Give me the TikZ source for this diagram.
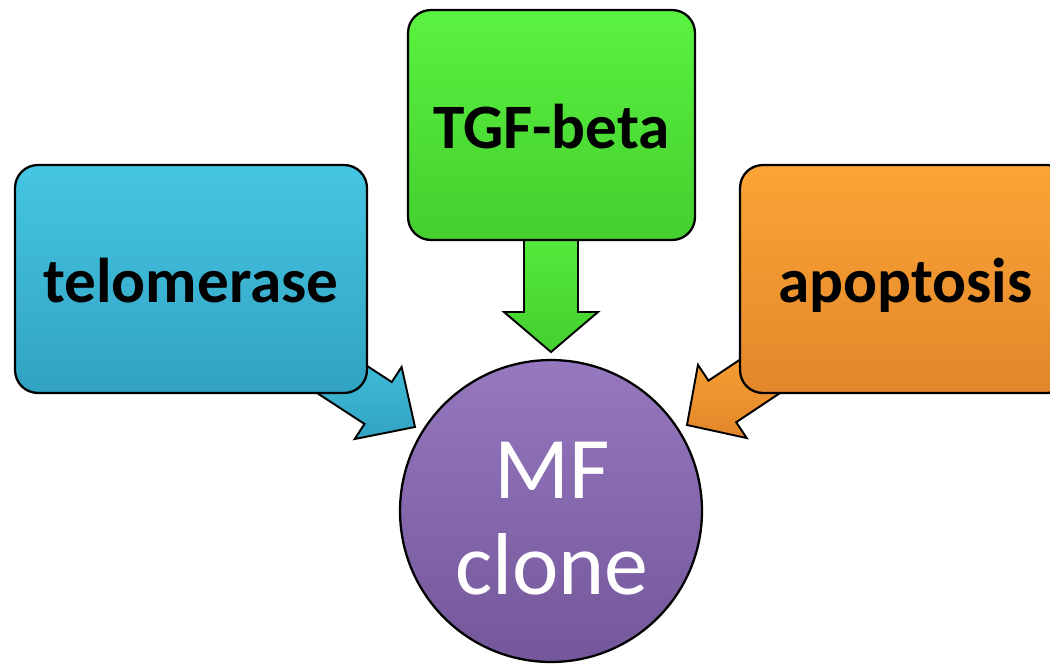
\documentclass[tikz,border=0pt]{standalone}
\usepackage{fontspec}
\setmainfont{Carlito}
\usetikzlibrary{calc}
\definecolor{cyanT}{HTML}{45C6E2}
\definecolor{cyanB}{HTML}{31A2C2}
\definecolor{greenT}{HTML}{5AF240}
\definecolor{greenB}{HTML}{44CF2E}
\definecolor{orangeT}{HTML}{FCA436}
\definecolor{orangeB}{HTML}{E2872A}
\definecolor{purpT}{HTML}{9678C0}
\definecolor{purpB}{HTML}{74569A}
\newcommand\blkarrow[6]{%
  \coordinate (#3-b) at ($(#3)!#6!(#2)$);
  \draw[#1] ($(#2)!#4!90:(#3)$) -- ($(#3-b)!#4!90:(#3)$) -- ($(#3-b)!#5!90:(#3)$)
    -- (#3) -- ($(#3-b)!#5!-90:(#3)$) -- ($(#3-b)!#4!-90:(#3)$) -- ($(#2)!#4!-90:(#3)$) -- cycle;}
\begin{document}
\begin{tikzpicture}[x=0.02cm,y=-0.02cm,
  box/.style={draw=black, line width=1.3pt, rounded corners=13pt, inner sep=0pt,
    font=\bfseries\fontsize{36}{40}\selectfont, text depth=0pt, text height=0.92cm},
  arr/.style={draw=black, line width=1.1pt, line join=miter},
  circ/.style={circle, draw=black, line width=1.3pt, inner sep=0pt, minimum size=6.04cm,
    top color=purpT, bottom color=purpB},
  mftext/.style={text=white, align=center, font=\fontsize{50}{55}\selectfont}]
\useasboundingbox (0,0) rectangle (1050,667);
% arrow anchors
\coordinate (cs) at (306,356);
\coordinate (ct) at (415,427);
\coordinate (gs) at (551,200);
\coordinate (gt) at (551,352);
\coordinate (os) at (795,353);
\coordinate (ot) at (687,425);
% arrows
\blkarrow{arr, top color=cyanT, bottom color=cyanB}{cs}{ct}{0.5cm}{0.86cm}{0.88cm}
\blkarrow{arr, top color=greenT, bottom color=greenB}{gs}{gt}{0.54cm}{0.94cm}{0.8cm}
\blkarrow{arr, top color=orangeT, bottom color=orangeB}{os}{ot}{0.5cm}{0.88cm}{0.85cm}
% boxes
\node[box, top color=cyanT, bottom color=cyanB, minimum width=7.04cm, minimum height=4.56cm]
  (telo) at (191,279) {telomerase};
\node[box, top color=greenT, bottom color=greenB, minimum width=5.74cm, minimum height=4.6cm]
  (tgf) at (551.5,125) {TGF-beta};
\node[box, top color=orangeT, bottom color=orangeB, minimum width=6.6cm, minimum height=4.56cm, text width=6.6cm, align=left]
  (apo) at (905,279) {\hspace{0.76cm}apoptosis};
% circle
\node[circ] (mf) at (551,511) {};
\node[mftext] (mflabel) at (552,518.5) {MF\\clone};
\end{tikzpicture}
\end{document}
